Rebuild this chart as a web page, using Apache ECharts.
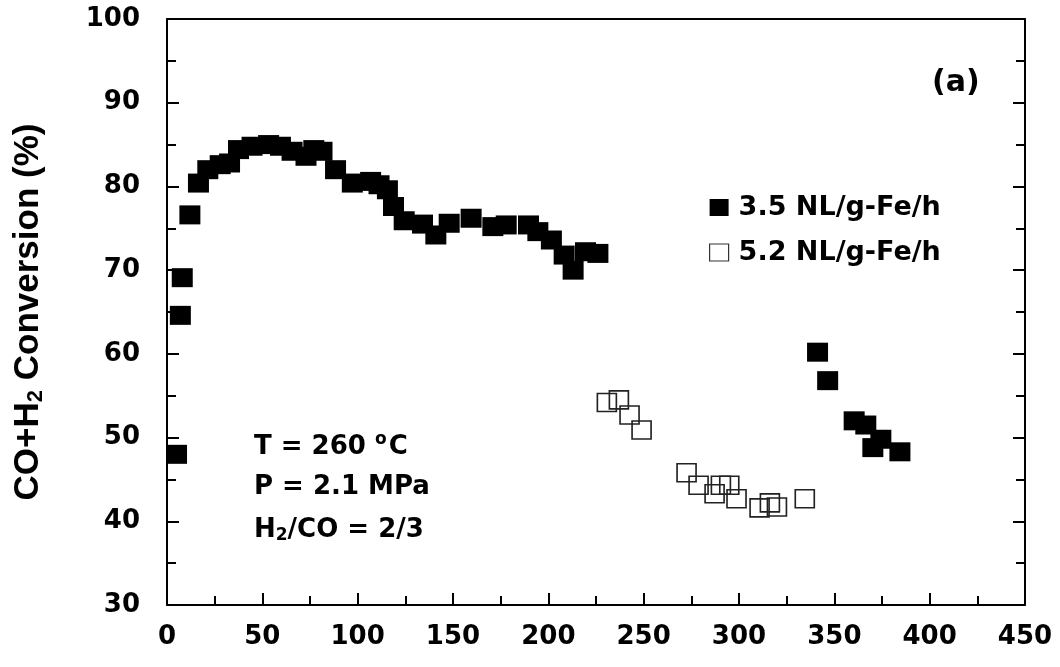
<!DOCTYPE html>
<html>
<head>
<meta charset="utf-8">
<script src="https://cdn.jsdelivr.net/npm/echarts@6/dist/echarts.min.js"></script>
<style>html,body{margin:0;padding:0;background:#fff}#c{width:1060px;height:667px}</style>
</head>
<body>
<div id="c"></div>
<script>
const xTicks = [0, 50, 100, 150, 200, 250, 300, 350, 400, 450];
const yTicks = [30, 40, 50, 60, 70, 80, 90, 100];
const seriesNames = ['3.5 NL/g-Fe/h', '5.2 NL/g-Fe/h'];
const filledX = [5, 7, 8, 12, 16.5, 21.4, 27.9, 32.8, 37.5, 44.6, 53.3, 59.5, 65.6, 72.9, 77, 81.3, 88.4, 97.2, 106.8, 111.2, 115.6, 118.8, 124.4, 134, 141, 148, 159.5, 170.9, 177.9, 189.6, 194.5, 201.6, 208.3, 213, 219.5, 226,
  341.2, 346.5, 360.4, 366.5, 370.2, 374.4, 384.4];
const filledY = [48, 64.6, 69.1, 76.6, 80.4, 82.0, 82.6, 82.8, 84.4, 84.8, 85.0, 84.8, 84.2, 83.6, 84.4, 84.2, 82.0, 80.4, 80.6, 80.2, 79.6, 77.6, 75.9, 75.5, 74.2, 75.6, 76.2, 75.2, 75.4, 75.4, 74.6, 73.6, 71.8, 70.0, 72.2, 72.0,
  60.2, 56.8, 52.0, 51.5, 48.8, 49.8, 48.3];
const openX = [230.7, 237, 242.6, 248.9, 272.5, 278.8, 287.2, 290.5, 294.9, 298.7, 310.8, 316.2, 319.9, 334.5];
const openY = [54.2, 54.5, 52.7, 50.9, 45.8, 44.3, 43.3, 44.3, 44.3, 42.7, 41.6, 42.2, 41.7, 42.7];

const wide = 'DejaVu Sans, sans-serif';
const narrow = 'Liberation Sans, Arial, sans-serif';
const chart = echarts.init(document.getElementById('c'));
const axisLineStyle = {color: '#000', width: 2};
const tickStyle = {color: '#000', width: 2};
chart.setOption({
  animation: false,
  grid: {left: 167, right: 35, top: 19, bottom: 62, show: false},
  xAxis: [{
    type: 'value', min: xTicks[0], max: xTicks[xTicks.length - 1], interval: 50,
    axisLine: {show: true, onZero: false, lineStyle: axisLineStyle},
    axisTick: {show: true, inside: true, length: 12, lineStyle: tickStyle},
    minorTick: {show: true, splitNumber: 2, length: 9, lineStyle: tickStyle},
    splitLine: {show: false},
    axisLabel: {color: '#000', fontFamily: wide, fontWeight: 'bold', fontSize: 26, margin: 19}
  }, {
    type: 'value', position: 'top', min: 0, max: 450,
    axisLine: {show: true, onZero: false, lineStyle: axisLineStyle},
    axisTick: {show: false}, axisLabel: {show: false}, splitLine: {show: false}
  }],
  yAxis: [{
    type: 'value', min: yTicks[0], max: yTicks[yTicks.length - 1], interval: 10,
    axisLine: {show: true, onZero: false, lineStyle: axisLineStyle},
    axisTick: {show: true, inside: true, length: 12, lineStyle: tickStyle},
    minorTick: {show: true, splitNumber: 2, length: 9, lineStyle: tickStyle},
    splitLine: {show: false},
    axisLabel: {color: '#000', fontFamily: wide, fontWeight: 'bold', fontSize: 26, margin: 27},
    name: 'CO+H{sub|2} Conversion (%)', nameLocation: 'middle', nameGap: 120,
    nameTextStyle: {color: '#000', fontFamily: narrow, fontWeight: 'bold', fontSize: 35,
      rich: {sub: {fontFamily: narrow, fontWeight: 'bold', fontSize: 22, verticalAlign: 'bottom', padding: [15, 0, 0, 0]}}}
  }, {
    type: 'value', position: 'right', min: 30, max: 100, interval: 10,
    axisLine: {show: true, onZero: false, lineStyle: axisLineStyle},
    axisTick: {show: true, inside: true, length: 12, lineStyle: tickStyle},
    minorTick: {show: true, splitNumber: 2, length: 9, lineStyle: tickStyle},
    splitLine: {show: false}, axisLabel: {show: false}
  }],
  legend: {
    orient: 'vertical', left: 709, top: 194, padding: 0, itemWidth: 19, itemHeight: 17, itemGap: 18,
    textStyle: {color: '#000', fontFamily: wide, fontWeight: 'bold', fontSize: 27, padding: [0, 0, 0, 5]},
    data: [
      {name: seriesNames[0], icon: 'rect'},
      {name: seriesNames[1], icon: 'rect', itemStyle: {color: 'rgba(0,0,0,0)', borderColor: '#333', borderWidth: 1.2}}
    ]
  },
  series: [{
    name: seriesNames[0], type: 'scatter', symbol: 'rect', symbolSize: [21, 19],
    itemStyle: {color: '#000', opacity: 1},
    data: filledX.map((x, i) => [x, filledY[i]])
  }, {
    name: seriesNames[1], type: 'scatter', symbol: 'rect', symbolSize: [19, 18],
    itemStyle: {color: 'rgba(0,0,0,0)', borderColor: '#222', borderWidth: 1.6, opacity: 1},
    data: openX.map((x, i) => [x, openY[i]])
  }],
  graphic: [
    {type: 'text', x: 932, y: 83, style: {text: '(a)', fill: '#000', font: 'bold 30px ' + wide, verticalAlign: 'middle'}},
    {type: 'text', x: 254, y: 447, style: {text: 'T = 260 {sup|o}C', fill: '#000', font: 'bold 26px ' + wide, verticalAlign: 'middle',
      rich: {sup: {font: 'bold 17px ' + wide, fill: '#000', verticalAlign: 'top', padding: [0, 2, 14, 0]}}}},
    {type: 'text', x: 254, y: 487, style: {text: 'P = 2.1 MPa', fill: '#000', font: 'bold 26px ' + wide, verticalAlign: 'middle'}},
    {type: 'text', x: 254, y: 530, style: {text: 'H{sub|2}/CO = 2/3', fill: '#000', font: 'bold 26px ' + wide, verticalAlign: 'middle',
      rich: {sub: {font: 'bold 17px ' + wide, fill: '#000', verticalAlign: 'bottom', padding: [12, 0, 0, 0]}}}}
  ]
});
</script>
</body>
</html>
